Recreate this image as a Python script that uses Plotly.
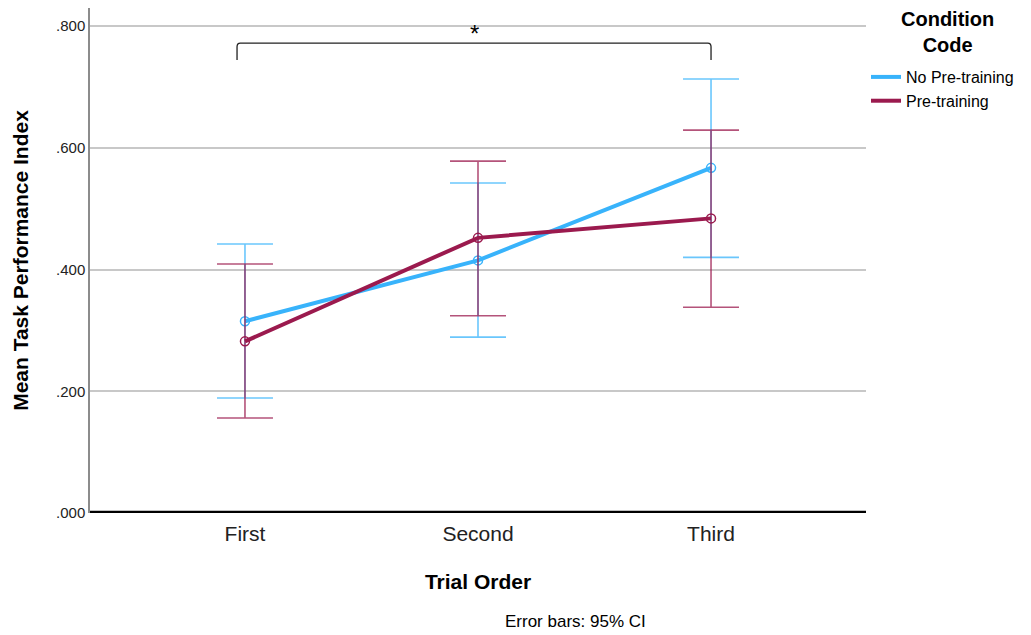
import plotly.graph_objects as go

categories = ["First", "Second", "Third"]
series_names = ["No Pre-training", "Pre-training"]
no_pre_mean = [0.315, 0.415, 0.567]
no_pre_upper = [0.442, 0.542, 0.713]
no_pre_lower = [0.189, 0.289, 0.420]
pre_mean = [0.282, 0.452, 0.484]
pre_upper = [0.409, 0.578, 0.629]
pre_lower = [0.156, 0.324, 0.338]
yticks = [0.0, 0.2, 0.4, 0.6, 0.8]
ytick_text = [".000", ".200", ".400", ".600", ".800"]

blue = "#38B3FB"
maroon = "#9B1A4E"
FONT = "Liberation Sans"

fig = go.Figure()

def add_series(name, mean, upper, lower, color, errcolor):
    xs = list(range(len(categories)))
    fig.add_trace(go.Scatter(
        x=xs, y=mean, name=name, mode="lines+markers", showlegend=False,
        line=dict(color=color, width=4),
        marker=dict(symbol="circle-open", size=9, color=color, line=dict(width=1.5)),
        error_y=dict(type="data", symmetric=False,
                     array=[u - m for u, m in zip(upper, mean)],
                     arrayminus=[m - l for m, l in zip(mean, lower)],
                     color=errcolor, thickness=1.6, width=28),
    ))
    # legend-only entry (line without marker)
    fig.add_trace(go.Scatter(x=[None], y=[None], name=name, mode="lines",
                             line=dict(color=color, width=4)))

add_series(series_names[0], no_pre_mean, no_pre_upper, no_pre_lower, blue, "rgba(56,179,251,0.75)")
add_series(series_names[1], pre_mean, pre_upper, pre_lower, maroon, "rgba(155,26,78,0.75)")

# significance bracket
fig.add_shape(type="path", xref="x", yref="y",
              path="M -0.034,0.744 L -0.034,0.766 Q -0.034,0.772 -0.02,0.772 L 1.986,0.772 Q 2.0,0.772 2.0,0.766 L 2.0,0.744",
              line=dict(color="#222222", width=1.3))
fig.add_annotation(x=0.983, y=0.772, xref="x", yref="y", text="*", showarrow=False,
                   yanchor="bottom", font=dict(size=24, color="black", family=FONT), yshift=-6)

fig.add_annotation(x=0.625, y=-0.2139, xref="paper", yref="paper", text="Error bars: 95% CI",
                   showarrow=False, xanchor="center", yanchor="middle",
                   font=dict(size=17, color="black", family=FONT))

# legend title as annotation
fig.add_annotation(x=1.1044, y=0.9515, xref="paper", yref="paper", text="<b>Condition<br>Code</b>",
                   showarrow=False, xanchor="center", yanchor="middle", align="center",
                   font=dict(size=20, color="black", family=FONT))

fig.update_layout(
    width=1031, height=635,
    margin=dict(l=90, r=165, t=8, b=122),
    plot_bgcolor="white", paper_bgcolor="white",
    font=dict(family=FONT, color="black"),
    showlegend=True,
    legend=dict(
        x=1.0, xanchor="left", y=0.897, yanchor="top",
        font=dict(size=16, family=FONT),
        tracegroupgap=0, itemwidth=30,
    ),
    xaxis=dict(
        range=[-0.665, 2.665], tickmode="array", tickvals=[0, 1, 2], ticktext=categories,
        showgrid=False, zeroline=False, showline=False, ticks="",
        tickfont=dict(size=21, family=FONT, color="#222"), ticklabelstandoff=6,
        title=dict(text="<b>Trial Order</b>", font=dict(size=21, family=FONT), standoff=30),
    ),
    yaxis=dict(
        range=[0, 0.8296], tickmode="array", tickvals=yticks, ticktext=ytick_text,
        showgrid=True, gridcolor="#C8C8C8", gridwidth=1.5,
        zeroline=False, showline=True, linecolor="#8C8C8C", linewidth=1.5, ticks="",
        tickfont=dict(size=15, family=FONT, color="#222"),
        title=dict(text="<b>Mean Task Performance Index</b>", font=dict(size=21, family=FONT), standoff=22),
    ),
)
# thick baseline at zero
fig.add_shape(type="line", xref="paper", yref="y", x0=0, x1=1, y0=0, y1=0,
              line=dict(color="black", width=4.5))

fig.write_html("out.html")
